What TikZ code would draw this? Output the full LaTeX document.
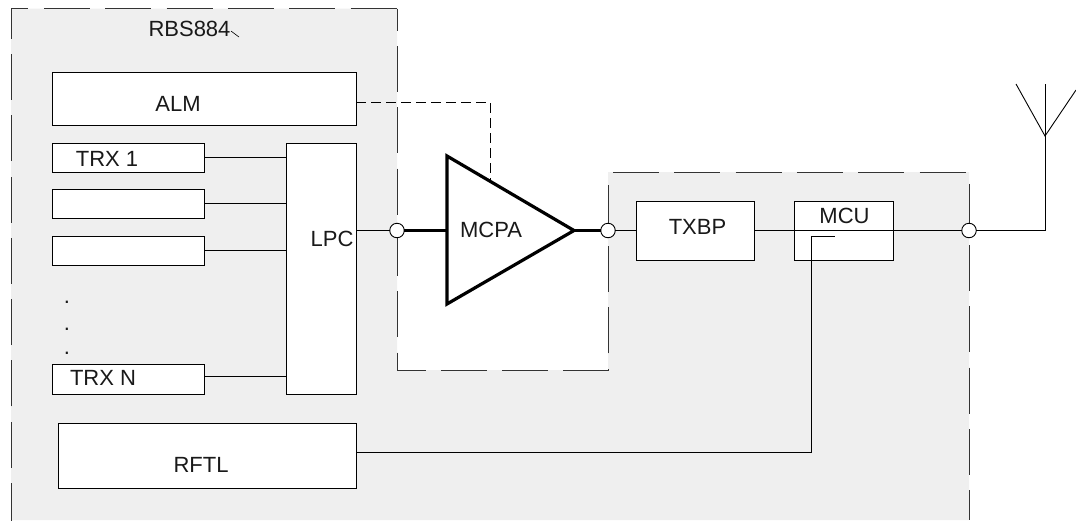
\documentclass[tikz,border=0pt]{standalone}
\usepackage{fontspec}
\setmainfont{Liberation Sans}
\definecolor{panel}{HTML}{EFEFEF}
\definecolor{edge}{HTML}{333333}
\tikzset{
  x=1pt,y=-1pt,
  box/.style={draw=black,fill=white,line width=0.9pt,anchor=north west,inner sep=0pt,outer sep=0pt},
  lab/.style={anchor=base,inner sep=0pt,font=\fontsize{22}{24}\selectfont,text=black!90},
  wire/.style={line width=0.9pt,black},
  thick wire/.style={line width=3.2pt,black},
  port/.style={circle,draw=black,fill=white,line width=0.9pt,minimum size=14.5pt,inner sep=0pt,outer sep=0pt},
  bound/.style={draw=edge,line width=0.9pt,dash pattern=on 46pt off 15.3pt},
}
\begin{document}
\begin{tikzpicture}
\useasboundingbox (0,0) rectangle (1076,520);
% panel
\fill[panel] (11,8.5) -- (397,8.5) -- (397,370) -- (608,370) -- (608,172) -- (969,172) -- (969,520) -- (11,520) -- cycle;
% dashed boundary
\draw[bound] (11,37) -- (11,8.5) -- (28,8.5);
\draw[bound] (11,529) -- (11,37);
\draw[bound] (44,8.5) -- (397,8.5);
\draw[bound] (397,8.5) -- (397,31);
\draw[bound] (397,46) -- (397,370) -- (608,370) -- (608,172);
\draw[bound] (613,172) -- (969,172) -- (969,520);
% boxes
\node[box,minimum width=304pt,minimum height=52.5pt] (alm) at (52,72.5) {};
\node[box,minimum width=152pt,minimum height=29pt] (trxa) at (52,143) {};
\node[box,minimum width=152pt,minimum height=29pt] (trxb) at (52,189) {};
\node[box,minimum width=152pt,minimum height=29pt] (trxc) at (52,236) {};
\node[box,minimum width=152pt,minimum height=30pt] (trxn) at (52,364) {};
\node[box,minimum width=70pt,minimum height=251pt] (lpc) at (286,143) {};
\node[box,minimum width=298pt,minimum height=65pt] (rftl) at (58,423) {};
\node[box,minimum width=117.5pt,minimum height=59pt] (txbp) at (636.5,201) {};
\node[box,minimum width=99pt,minimum height=59pt] (mcu) at (794,201) {};
% ports
\node[port] (pa) at (397,230.5) {};
\node[port] (pb) at (608,230.5) {};
\node[port] (pc) at (969,230.5) {};
% coordinates
\coordinate (almout) at (356,102);
\coordinate (fbturn) at (490,102);
\coordinate (fbend) at (490,181);
\coordinate (ampin) at (447,230.5);
\coordinate (amptop) at (447,156);
\coordinate (ampbot) at (447,304);
\coordinate (amptip) at (574,230.5);
\coordinate (lpcout) at (356,230.5);
\coordinate (anta) at (1045,230.5);
\coordinate (antb) at (1045,136);
\coordinate (antc) at (1045,84);
\coordinate (antl) at (1016,84);
\coordinate (antr) at (1076,90);
\coordinate (rftlout) at (356,452);
\coordinate (rfturn) at (811,452);
\coordinate (mcuturn) at (811,236);
\coordinate (mcuend) at (835,236);
% connectors
\draw[wire,dash pattern=on 10pt off 5pt] (almout) -- (fbturn) -- (fbend);
\draw[wire] (trxa.east) -- (trxa.east -| lpc.west);
\draw[wire] (trxb.east) -- (trxb.east -| lpc.west);
\draw[wire] (trxc.east) -- (trxc.east -| lpc.west);
\draw[wire] ([yshift=3pt]trxn.east) -- ([yshift=3pt]trxn.east -| lpc.west);
\draw[wire] (lpcout) -- (pa.west);
\draw[thick wire] (pa.east) -- (ampin);
\draw[thick wire] (amptip) -- (pb.west);
\draw[wire] (pb.east) -- (txbp.west);
\draw[wire] (txbp.east) -- (pc.west);
\draw[wire] (pc.east) -- (anta) -- (antc);
\draw[wire] (antl) -- (antb) -- (antr);
\draw[wire] (rftlout) -- (rfturn) -- (mcuturn) -- (mcuend);
% amplifier
\draw[fill=white,line width=3.2pt,line join=miter] (amptop) -- (amptip) -- (ampbot) -- cycle;
% tick
\coordinate (ticka) at (231,31);
\coordinate (tickb) at (239,37);
\draw[line width=0.6pt,black] (ticka) -- (tickb);
% labels
\node[lab] (trbs) at (189.5,36) {RBS884};
\node[lab] (talm) at (178,111) {ALM};
\node[lab] (ttrxa) at (107,166) {TRX 1};
\node[lab] (ttrxn) at (103,385) {TRX N};
\node[lab] (tlpc) at (332,246) {LPC};
\node[lab] (trftl) at (201,472) {RFTL};
\node[lab] (tmcpa) at (491,237) {MCPA};
\node[lab] (ttxbp) at (697.5,234) {TXBP};
\node[lab] (tmcu) at (844.5,223) {MCU};
\node[lab] (da) at (67,303.5) {.};
\node[lab] (db) at (67,330.5) {.};
\node[lab] (dc) at (67,354.5) {.};
\end{tikzpicture}
\end{document}
